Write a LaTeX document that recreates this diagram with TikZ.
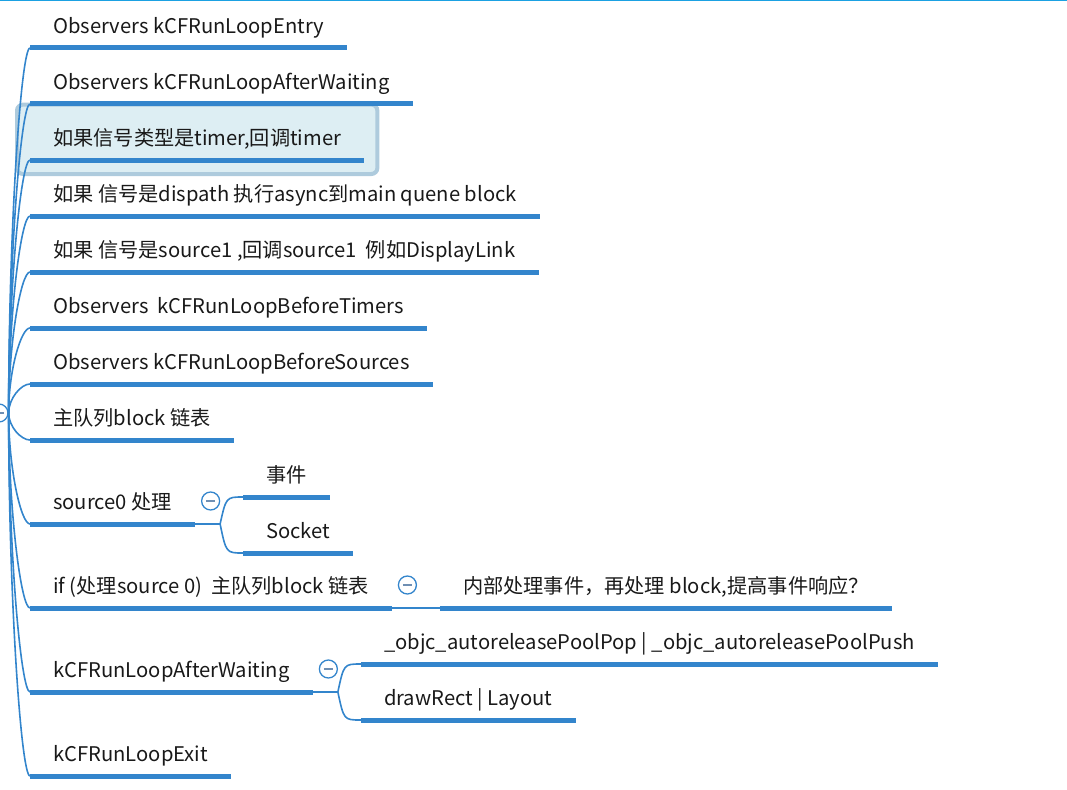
\documentclass[tikz,border=0pt]{standalone}
\usepackage{fontspec}
\setmainfont{Noto Sans CJK SC}
\usepackage{tikz}
\usetikzlibrary{calc,fit,backgrounds,positioning}

\definecolor{mapblue}{HTML}{3385CC}
\definecolor{topcyan}{HTML}{1BA1E2}
\definecolor{selfill}{HTML}{DDEEF3}
\definecolor{seledge}{HTML}{AECBDD}
\definecolor{foldgray}{HTML}{6F8FB3}

\begin{document}
\begin{tikzpicture}[x=1pt, y=-1pt,
    topic/.style={anchor=south west, inner xsep=23pt, inner ysep=12pt, text height=15pt, text depth=2pt,
        font=\fontsize{20.2}{23}\selectfont, text=black!90},
    uline/.style={mapblue, line width=5pt},
    conn/.style={mapblue, line width=1.6pt},
    fold/.style={circle, draw=mapblue, line width=1.3pt, fill=white, minimum size=18pt, inner sep=0pt,
        path picture={\draw[foldgray, line width=1.5pt] ([xshift=-4.5pt]path picture bounding box.center)
            -- ([xshift=4.5pt]path picture bounding box.center);}},
    selbox/.style={draw=seledge, fill=selfill, line width=4pt, rounded corners=6pt, inner xsep=13pt, inner ysep=14pt}]

    \useasboundingbox (0,0) rectangle (1067,789);
    \draw[topcyan, line width=1.5pt] (0,0.7) -- (1067,0.7);

    % Root (cut off at the left edge)
    \node[fold] (root) at (-1,413) {};

    % Main topics
    \node[topic] (entry)      at (30,48)  {Observers kCFRunLoopEntry};
    \node[topic] (awobs)      at (30,104) {Observers kCFRunLoopAfterWaiting};
    \node[topic] (timer)      at (30,160) {如果信号类型是timer,回调timer};
    \node[topic] (dispatch)   at (30,216) {如果 信号是dispath 执行async到main quene block};
    \node[topic] (sourceone)  at (30,272) {如果 信号是source1 ,回调source1~ 例如DisplayLink};
    \node[topic] (beftimers)  at (30,328) {Observers~ kCFRunLoopBeforeTimers};
    \node[topic] (befsources) at (30,384) {Observers kCFRunLoopBeforeSources};
    \node[topic] (mainq)      at (30,440) {主队列block 链表};
    \node[topic] (srczero)    at (30,524) {source0 处理};
    \node[topic] (ifsrc)      at (30,608) {if (处理source 0)~ 主队列block 链表};
    \node[topic] (aftwait)    at (30,692) {kCFRunLoopAfterWaiting};
    \node[topic] (exit)       at (30,776) {kCFRunLoopExit};

    % Selected topic
    \begin{scope}[on background layer]
        \node[selbox, fit=(timer)] (timersel) {};
    \end{scope}

    % Sub topics
    \node[topic] (event)    at ([shift={(48,-27)}]srczero.south east) {事件};
    \node[topic] (socket)   at ([shift={(48,29)}]srczero.south east)  {Socket};
    \node[topic] (inner)    at ([shift={(48,0)}]ifsrc.south east)     {内部处理事件，再处理 block,提高事件响应？};
    \node[topic] (poolpop)  at ([shift={(48,-28)}]aftwait.south east) {\_objc\_autoreleasePoolPop | \_objc\_autoreleasePoolPush};
    \node[topic] (drawrect) at ([shift={(48,28)}]aftwait.south east)  {drawRect | Layout};

    % Underlines
    \foreach \n in {entry,awobs,timer,dispatch,sourceone,beftimers,befsources,mainq,srczero,ifsrc,aftwait,exit,event,socket,inner,poolpop,drawrect}
        \draw[uline] (\n.south west) -- (\n.south east);

    % Branches from the root
    \foreach \n in {entry,awobs,timer,dispatch,sourceone,beftimers,befsources,mainq,srczero,ifsrc,aftwait,exit}
        \draw[conn] (root.east) .. controls ($(root.east)!0.5!(root.east |- \n.south west)$)
            and ([xshift=-9pt]\n.south west) .. (\n.south west);

    % Forks to the sub topics
    \coordinate (srcfork) at ([xshift=25pt]srczero.south east);
    \coordinate (awfork)  at ([xshift=25pt]aftwait.south east);
    \draw[conn] (srczero.south east) -- (srcfork);
    \draw[conn] (aftwait.south east) -- (awfork);
    \draw[conn] (ifsrc.south east) -- (inner.south west);
    \foreach \n in {event,socket}
        \draw[conn] (srcfork) .. controls ([xshift=6pt]srcfork |- \n.south west) .. (\n.south west);
    \foreach \n in {poolpop,drawrect}
        \draw[conn] (awfork) .. controls ([xshift=6pt]awfork |- \n.south west) .. (\n.south west);

    % Fold buttons
    \node[fold] (srcfold) at ([shift={(15.5,-23)}]srczero.south east) {};
    \node[fold] (iffold)  at ([shift={(15.5,-23)}]ifsrc.south east)   {};
    \node[fold] (awfold)  at ([shift={(15.5,-23)}]aftwait.south east) {};
\end{tikzpicture}
\end{document}
